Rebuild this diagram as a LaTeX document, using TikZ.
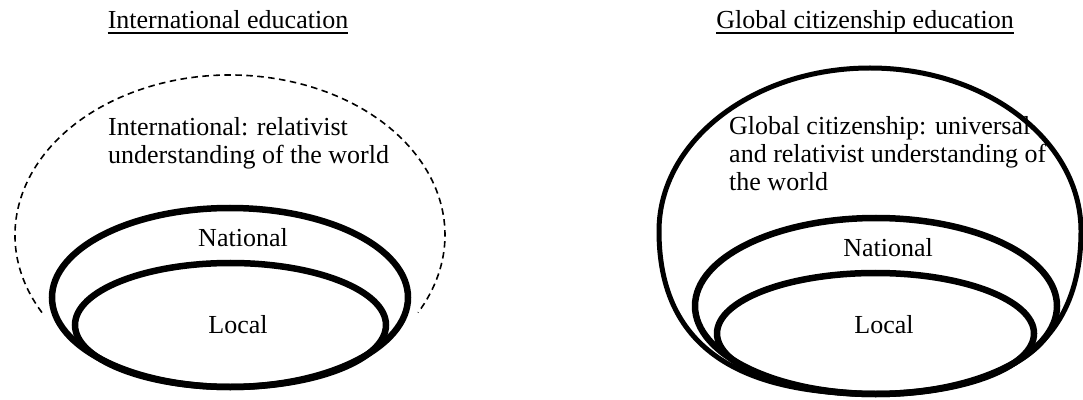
\documentclass[tikz,border=0pt]{standalone}
\usepackage{fontspec}
\setmainfont{Liberation Serif}
\usetikzlibrary{shapes.geometric}
\begin{document}
\begin{tikzpicture}[x=1pt,y=1pt,
  ring/.style={draw, ellipse, inner sep=0pt, line width=6.5pt},
  outerline/.style={line width=5pt},
  txt/.style={font=\fontsize{26}{28}\selectfont, inner sep=0pt},
  body/.style={txt, align=left, anchor=north west},
  title/.style={txt, anchor=base},
  uline/.style={line width=2pt},
  dashring/.style={line width=1.6pt, dash pattern=on 6.5pt off 4.5pt}
]
\useasboundingbox (0,0) rectangle (1083,399);
% ---------- left: International education ----------
\node[title] (tL) at (228,370) {International education};
\draw[uline] ([yshift=-4pt]tL.base west) -- ([yshift=-4pt]tL.base east);
\draw[dashring]
  (230,164) ++(209:215 and 160) arc[start angle=209, end angle=-29, x radius=215, y radius=160];
\node[ring, minimum width=356pt, minimum height=179pt] (natL) at (230,101.5) {};
\node[ring, minimum width=311pt, minimum height=124pt] (locL) at (230.5,74) {};
\node[body] (intL) at (108,282) {International: relativist\\understanding of the world};
\node[txt] (natLt) at (243,161) {National};
\node[txt] (locLt) at (238,74) {Local};
% ---------- right: Global citizenship education ----------
\node[title] (tR) at (865,370) {Global citizenship education};
\draw[uline] ([yshift=-4pt]tR.base west) -- ([yshift=-4pt]tR.base east);
\coordinate (gL) at (659,168);
\coordinate (gT) at (870,331);
\coordinate (gR) at (1081,168);
\coordinate (gB) at (873,5);
\draw[outerline] (gL) .. controls (659,258) and (753.5,331) .. (gT)
  .. controls (986.5,331) and (1081,258) .. (gR)
  .. controls (1081,68) and (1023,5) .. (gB)
  .. controls (718,5) and (659,68) .. (gL) -- cycle;
\node[ring, minimum width=362pt, minimum height=176pt] (natR) at (876,93) {};
\node[ring, minimum width=317pt, minimum height=121pt] (locR) at (875.5,65.5) {};
\node[body] (gcR) at (729,283) {Global citizenship: universal\\and relativist understanding of\\the world};
\node[txt] (natRt) at (888,151) {National};
\node[txt] (locRt) at (884,74) {Local};
\end{tikzpicture}
\end{document}
